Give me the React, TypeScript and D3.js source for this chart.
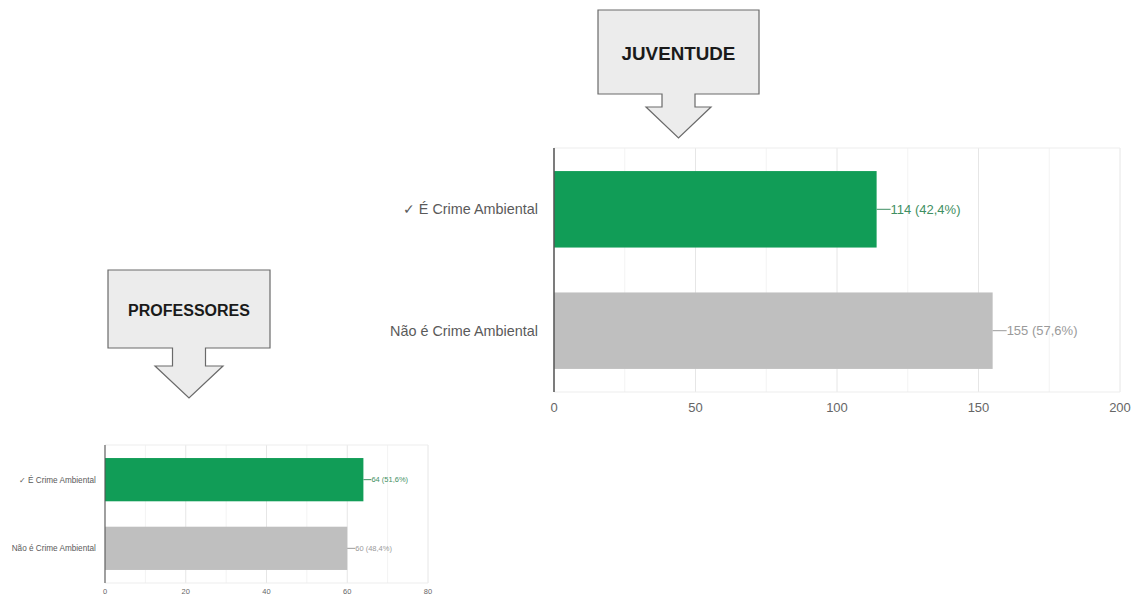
import React from "react";
import * as d3 from "d3";

const categories = ["✓ É Crime Ambiental", "Não é Crime Ambiental"];
const juventudeValues = [114, 155];
const juventudeLabels = ["114 (42,4%)", "155 (57,6%)"];
const juventudeTicks = [0, 50, 100, 150, 200];
const professoresValues = [64, 60];
const professoresLabels = ["64 (51,6%)", "60 (48,4%)"];
const professoresTicks = [0, 20, 40, 60, 80];
const barColors = ["#119d57", "#bfbfbf"];
const labelColors = ["#3f8f63", "#9a9a9a"];

const FONT = "'Liberation Sans', Arial, sans-serif";

type ChartProps = {
  values: number[];
  labels: string[];
  ticks: number[];
  x0: number;
  x1: number;
  y0: number;
  y1: number;
  fs: number;
  cfs: number;
  k: number;
};

function BarChart({ values, labels, ticks, x0, x1, y0, y1, fs, cfs, k }: ChartProps) {
  const x = d3.scaleLinear().domain([ticks[0], ticks[ticks.length - 1]]).range([x0, x1]);
  const y = d3
    .scaleBand<string>()
    .domain(categories)
    .range([y0, y1])
    .paddingInner(0.37)
    .paddingOuter(0.19);
  const step = ticks[1] - ticks[0];
  const minor = ticks.slice(0, -1).map((t) => t + step / 2);
  return (
    <g fontFamily={FONT}>
      {minor.map((t) => (
        <line key={"m" + t} x1={x(t)} x2={x(t)} y1={y0} y2={y1} stroke="#f3f3f3" strokeWidth={1} />
      ))}
      {ticks.map((t) => (
        <line key={"g" + t} x1={x(t)} x2={x(t)} y1={y0} y2={y1} stroke="#e6e6e6" strokeWidth={1} />
      ))}
      <line x1={x0} x2={x1} y1={y0} y2={y0} stroke="#ededed" strokeWidth={1} />
      <line x1={x0} x2={x1} y1={y1} y2={y1} stroke="#ededed" strokeWidth={1} />
      {categories.map((c, i) => {
        const yy = y(c)!;
        const bw = y.bandwidth();
        const xe = x(values[i]);
        const cy = yy + bw / 2;
        return (
          <g key={c}>
            <rect x={x(0)} y={yy} width={xe - x(0)} height={bw} fill={barColors[i]} />
            <line x1={xe} x2={xe + 14 * k} y1={cy} y2={cy} stroke={labelColors[i]} strokeWidth={1} />
            <text
              x={xe + 14 * k}
              y={cy}
              dy="0.35em"
              fontSize={fs}
              fill={labelColors[i]}
            >
              {labels[i]}
            </text>
            <text
              x={x0 - 16 * k}
              y={cy}
              dy="0.35em"
              fontSize={cfs}
              fill="#5a5a5a"
              textAnchor="end"
            >
              {c}
            </text>
          </g>
        );
      })}
      <line x1={x0} x2={x0} y1={y0} y2={y1} stroke="#555" strokeWidth={1.5 * Math.max(k, 0.7)} />
      {ticks.map((t) => (
        <text
          key={"t" + t}
          x={x(t)}
          y={y1 + 15 * k}
          dy="0.35em"
          fontSize={fs}
          fill="#666"
          textAnchor="middle"
        >
          {t}
        </text>
      ))}
    </g>
  );
}

type CalloutProps = {
  bx: number;
  by: number;
  bw: number;
  bh: number;
  sw: number;
  sh: number;
  hw: number;
  hh: number;
  text: string;
  fs: number;
};

function Callout({ bx, by, bw, bh, sw, sh, hw, hh, text, fs }: CalloutProps) {
  const cx = bx + bw / 2;
  const yb = by + bh;
  const ys = yb + sh;
  const path = d3.path();
  path.moveTo(bx, by);
  path.lineTo(bx + bw, by);
  path.lineTo(bx + bw, yb);
  path.lineTo(cx + sw / 2, yb);
  path.lineTo(cx + sw / 2, ys);
  path.lineTo(cx + hw / 2, ys);
  path.lineTo(cx, ys + hh);
  path.lineTo(cx - hw / 2, ys);
  path.lineTo(cx - sw / 2, ys);
  path.lineTo(cx - sw / 2, yb);
  path.lineTo(bx, yb);
  path.closePath();
  return (
    <g>
      <path d={path.toString()} fill="#ececec" stroke="#6a6a6a" strokeWidth={1.2} />
      <text
        x={cx}
        y={by + bh * 0.52}
        dy="0.35em"
        textAnchor="middle"
        fontFamily={FONT}
        fontWeight="bold"
        fontSize={fs}
        fill="#1a1a1a"
      >
        {text}
      </text>
    </g>
  );
}

export default function App() {
  return (
    <svg
      width={1140}
      height={599}
      style={{ position: "absolute", left: 0, top: 0, background: "#fff" }}
    >
      <rect width={1140} height={599} fill="#fff" />
      <Callout bx={598} by={10} bw={161} bh={84} sw={33} sh={13} hw={65} hh={31} text="JUVENTUDE" fs={18.8} />
      <Callout bx={108} by={270} bw={162} bh={78} sw={33} sh={18} hw={68} hh={32} text="PROFESSORES" fs={16} />
      <BarChart
        values={juventudeValues}
        labels={juventudeLabels}
        ticks={juventudeTicks}
        x0={554}
        x1={1120}
        y0={148}
        y1={392}
        fs={13}
        cfs={14.4}
        k={1}
      />
      <BarChart
        values={professoresValues}
        labels={professoresLabels}
        ticks={professoresTicks}
        x0={105}
        x1={428}
        y0={445}
        y1={583}
        fs={7.5}
        cfs={8.2}
        k={0.57}
      />
    </svg>
  );
}
